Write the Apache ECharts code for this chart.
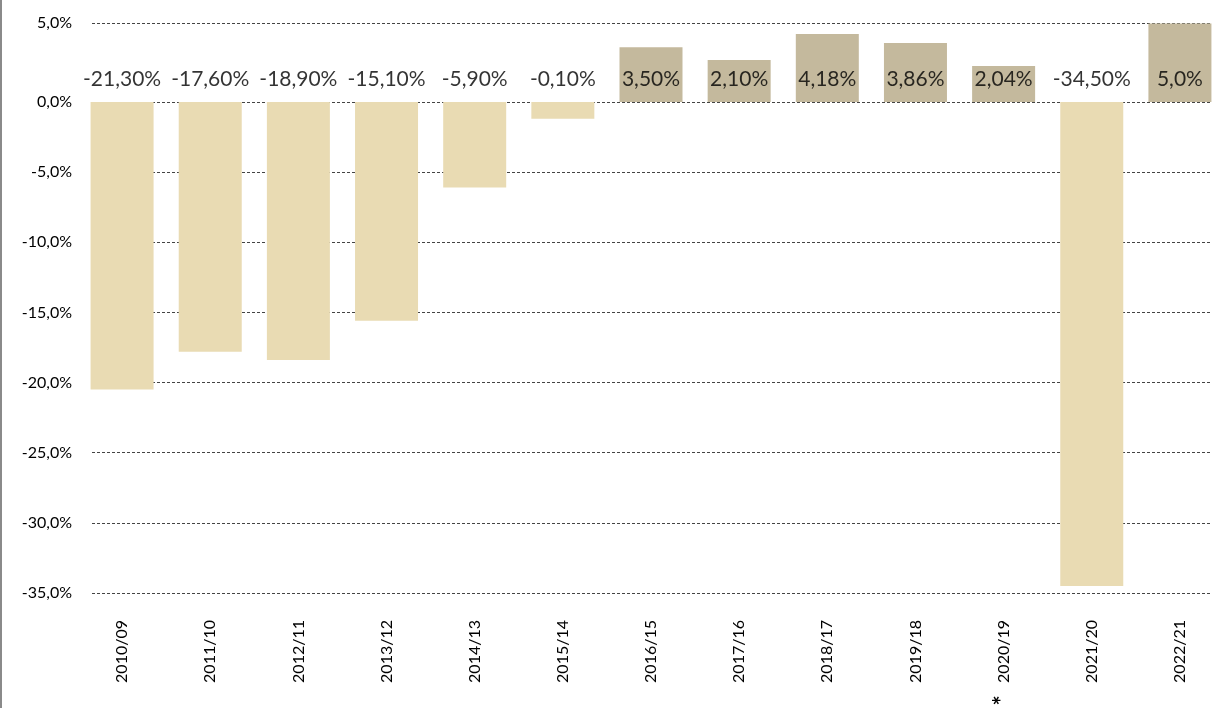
<!DOCTYPE html>
<html>
<head>
<meta charset="utf-8">
<script src="https://cdn.jsdelivr.net/npm/echarts@6/dist/echarts.min.js"></script>
<style>
  html, body { margin: 0; padding: 0; background: #fff; }
  #main { width: 1212px; height: 708px; }
</style>
</head>
<body>
<div id="main"></div>
<script>
// categories and values (bar heights, labels as printed)
const seasons = ['2010/09', '2011/10', '2012/11', '2013/12', '2014/13', '2015/14', '2016/15',
                 '2017/16', '2018/17', '2019/18', '2020/19', '2021/20', '2022/21'];
const barValues = [-20.5, -17.8, -18.4, -15.6, -6.1, -1.2, 3.9, 3.0, 4.85, 4.2, 2.57, -34.5, 5.6];
const labelTexts = ['-21,30%', '-17,60%', '-18,90%', '-15,10%', '-5,90%', '-0,10%', '3,50%',
                    '2,10%', '4,18%', '3,86%', '2,04%', '-34,50%', '5,0%'];
const starred = ['2020/19'];
// tick rows: the negative part and the single 5% line above zero
const negTicks = { min: -35, max: 0, interval: 5 };
const posTicks = { min: 0, max: 5, interval: 5 };
const dataRange = { min: -35, max: 5.63 };
const labelLevel = 1.6;   // height of the printed value row

const negColor = '#E9DBB3';
const posColor = '#C4B99D';
const font = 'Lato, "DejaVu Sans", sans-serif';
const gridLine = { lineStyle: { color: '#444', type: [3, 2], width: 1 } };

const pct = (v) => v.toFixed(1).replace('.', ',') + '%';

let myChart = echarts.init(document.getElementById('main'));
let option = {
    animation: false,
    grid: [
        { left: 92, right: 0, top: 102, bottom: 115 },
        // bar grid runs a little past the right edge, the last bar is cut by the frame
        { left: 78, width: 1146, top: 23, bottom: 115, outerBoundsMode: 'none' },
        { left: 92, right: 0, top: 23, height: 79 }
    ],
    xAxis: [
        { gridIndex: 0, type: 'value', show: false, min: 0, max: 1 },
        {
            gridIndex: 1,
            type: 'category',
            data: seasons,
            axisLine: { show: false },
            axisTick: { show: false },
            axisLabel: {
                rotate: 90,
                margin: 27,
                fontFamily: font,
                fontSize: 16,
                color: '#000',
                formatter: (v) => starred.includes(v) ? '{s|*}   ' + v : v,
                rich: { s: { fontSize: 24, fontWeight: 'bold', fontFamily: font, color: '#000' } }
            }
        },
        { gridIndex: 2, type: 'value', show: false, min: 0, max: 1 }
    ],
    yAxis: [
        {
            gridIndex: 0,
            type: 'value',
            min: negTicks.min, max: negTicks.max, interval: negTicks.interval,
            axisLine: { show: false },
            axisTick: { show: false },
            axisLabel: { margin: 20, fontFamily: font, fontSize: 16, color: '#000', formatter: pct },
            splitLine: gridLine
        },
        {
            gridIndex: 1,
            type: 'value',
            show: false,
            min: dataRange.min, max: dataRange.max
        },
        {
            gridIndex: 2,
            type: 'value',
            min: posTicks.min, max: posTicks.max, interval: posTicks.interval,
            axisLine: { show: false },
            axisTick: { show: false },
            axisLabel: { margin: 20, fontFamily: font, fontSize: 16, color: '#000', formatter: pct, showMinLabel: false },
            splitLine: gridLine
        }
    ],
    series: [
        {
            type: 'bar',
            xAxisIndex: 1, yAxisIndex: 1,
            barWidth: 63,
            data: barValues.map((v) => ({
                value: v,
                itemStyle: { color: v < 0 ? negColor : posColor }
            }))
        },
        {
            type: 'scatter',
            xAxisIndex: 1, yAxisIndex: 1,
            symbolSize: 0,
            data: labelTexts.map(() => labelLevel),
            label: {
                show: true,
                position: 'inside',
                fontFamily: font,
                fontSize: 21,
                color: '#000',
                formatter: (p) => labelTexts[p.dataIndex]
            }
        }
    ],
    graphic: [
        { type: 'rect', shape: { x: 0, y: 0, width: 2, height: 708 }, style: { fill: '#8a8a8a' } }
    ]
};
myChart.setOption(option);
</script>
</body>
</html>
